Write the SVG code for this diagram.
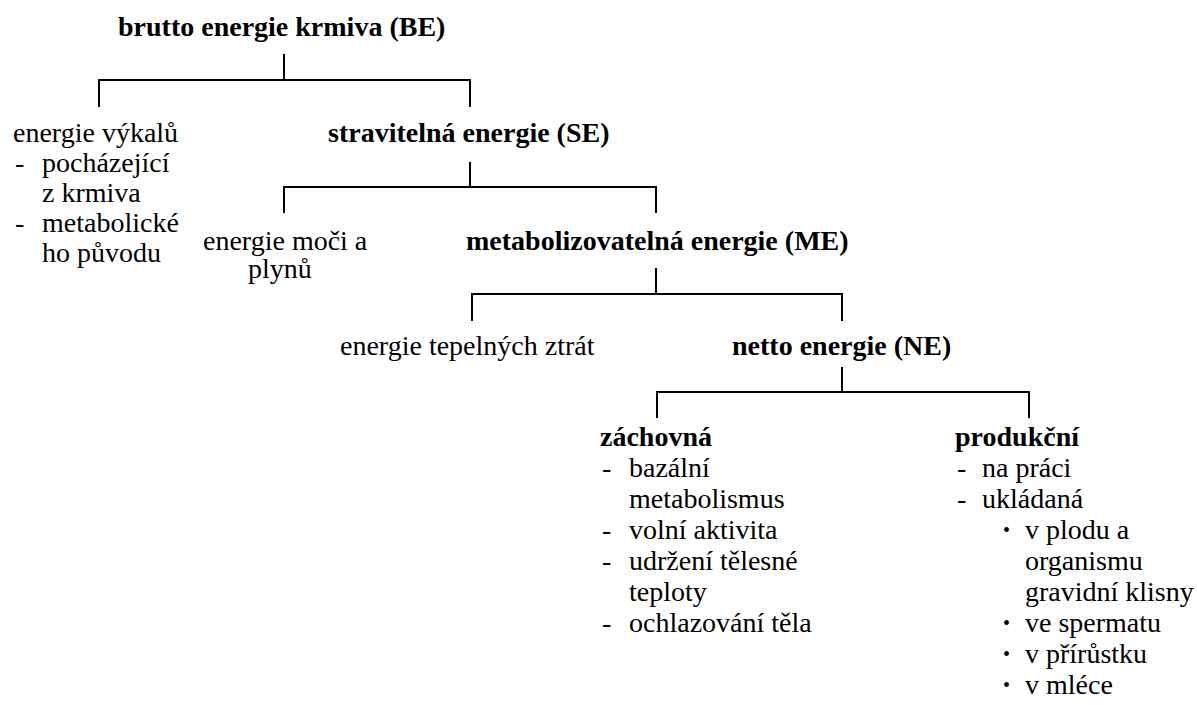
<svg xmlns="http://www.w3.org/2000/svg" width="1197" height="705" viewBox="0 0 1197 705" font-family="'Liberation Serif', 'Times New Roman', Tinos, 'DejaVu Serif', serif">
<style>
text{font-family:'Liberation Serif','Times New Roman',Tinos,'DejaVu Serif',serif;font-size:28px;fill:#000}
.b{font-weight:bold}
.bul{font-size:20px}
#connectors path{stroke:#000;stroke-width:2;fill:none}
</style>
<rect width="1197" height="705" fill="#fff"/>
<g id="connectors">
<path d="M284,54V80M99,107V80H470V107"/>
<path d="M470,162V187M284,213V187H656V213"/>
<path d="M656,268V294M472,321V294H842V321"/>
<path d="M842,367V392M657,418V392H1029V418"/>
</g>
<g id="be"><text class="b" x="118" y="36">brutto energie krmiva (BE)</text></g>
<g id="vykaly">
<text x="13" y="142">energie výkalů</text>
<text x="15" y="172">-</text><text x="42" y="172">pocházející</text>
<text x="42" y="202">z krmiva</text>
<text x="15" y="232">-</text><text x="42" y="232">metabolické</text>
<text x="42" y="262">ho původu</text>
</g>
<g id="se"><text class="b" x="328" y="142">stravitelná energie (SE)</text></g>
<g id="moc">
<text x="203" y="250">energie moči a</text>
<text x="248" y="278">plynů</text>
</g>
<g id="me"><text class="b" x="466" y="250">metabolizovatelná energie (ME)</text></g>
<g id="teplo"><text x="340" y="355">energie tepelných ztrát</text></g>
<g id="ne"><text class="b" x="732" y="355">netto energie (NE)</text></g>
<g id="zachovna">
<text class="b" x="600" y="446">záchovná</text>
<text x="602" y="477">-</text><text x="629" y="477">bazální</text>
<text x="629" y="508">metabolismus</text>
<text x="602" y="539">-</text><text x="629" y="539">volní aktivita</text>
<text x="602" y="570">-</text><text x="629" y="570">udržení tělesné</text>
<text x="629" y="601">teploty</text>
<text x="602" y="632">-</text><text x="629" y="632">ochlazování těla</text>
</g>
<g id="produkcni">
<text class="b" x="955" y="446">produkční</text>
<text x="957" y="477">-</text><text x="982" y="477">na práci</text>
<text x="957" y="508">-</text><text x="982" y="508">ukládaná</text>
<text class="bul" x="1003" y="537">•</text><text x="1025" y="539">v plodu a</text>
<text x="1025" y="570">organismu</text>
<text x="1025" y="601">gravidní klisny</text>
<text class="bul" x="1003" y="630">•</text><text x="1025" y="632">ve spermatu</text>
<text class="bul" x="1003" y="661">•</text><text x="1025" y="663">v přírůstku</text>
<text class="bul" x="1003" y="692">•</text><text x="1025" y="694">v mléce</text>
</g>
</svg>
